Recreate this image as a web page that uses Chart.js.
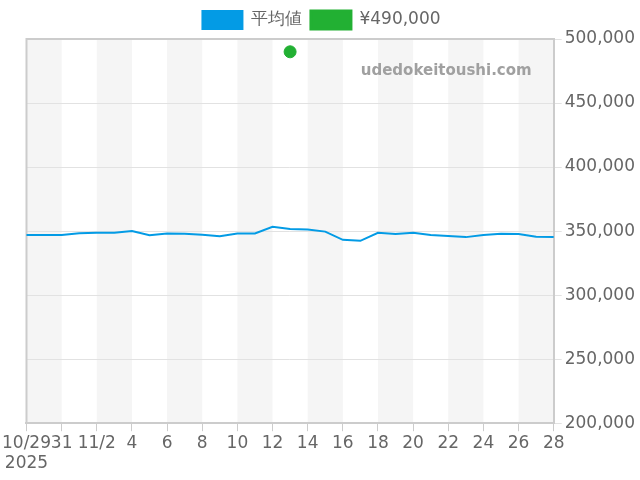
<!DOCTYPE html>
<html>
<head>
<meta charset="utf-8">
<script src="https://cdn.jsdelivr.net/npm/chart.js@4"></script>
<style>
  body { margin: 0; background: #fff; }
  #wrap { width: 640px; height: 480px; }
</style>
</head>
<body>
<div id="wrap"><canvas id="chart"></canvas></div>
<script>
// data
const days = [
  "10/29", "10/30", "10/31", "11/1", "11/2", "11/3", "11/4", "11/5", "11/6", "11/7",
  "11/8", "11/9", "11/10", "11/11", "11/12", "11/13", "11/14", "11/15", "11/16", "11/17",
  "11/18", "11/19", "11/20", "11/21", "11/22", "11/23", "11/24", "11/25", "11/26", "11/27", "11/28"
];
const tickLabels = ["10/29", "31", "11/2", "4", "6", "8", "10", "12", "14", "16", "18", "20", "22", "24", "26", "28"];
const avgPrice = [
  347000, 347000, 347000, 348400, 348700, 348700, 350000, 346800, 348200, 348000,
  347200, 346000, 348200, 348200, 353300, 351700, 351200, 349600, 343200, 342400,
  348700, 347700, 348700, 347000, 346100, 345300, 347000, 348000, 347700, 345600, 345300
];
const listPrice = days.map((d) => (d === "11/13" ? 490000 : null));

// alternating 2-day background bands, frame + watermark
const bands = {
  id: "bands",
  beforeDraw(chart) {
    const { ctx, chartArea, scales } = chart;
    const x = scales.x;
    ctx.save();
    ctx.fillStyle = "#f5f5f5";
    for (let i = 0; i < days.length - 1; i += 4) {
      const x0 = x.getPixelForValue(i);
      const x1 = x.getPixelForValue(Math.min(i + 2, days.length - 1));
      ctx.fillRect(x0, chartArea.top, x1 - x0, chartArea.bottom - chartArea.top);
    }
    ctx.restore();
  },
  beforeDatasetsDraw(chart) {
    const { ctx, chartArea } = chart;
    ctx.save();
    ctx.strokeStyle = "#cccccc";
    ctx.lineWidth = 2;
    ctx.beginPath();
    ctx.moveTo(chartArea.left, chartArea.bottom);
    ctx.lineTo(chartArea.left, chartArea.top);
    ctx.lineTo(chartArea.right, chartArea.top);
    ctx.stroke();
    ctx.fillStyle = "#a0a0a0";
    ctx.font = "bold 15px 'DejaVu Sans'";
    ctx.textAlign = "right";
    ctx.fillText("udedokeitoushi.com", chartArea.right - 22, chartArea.top + 32);
    ctx.restore();
  },
};

new Chart(document.getElementById("chart"), {
  type: "line",
  data: {
    labels: days,
    datasets: [
      {
        label: "平均値",
        data: avgPrice,
        borderColor: "#039be5",
        backgroundColor: "#039be5",
        borderWidth: 2,
        pointRadius: 0,
        tension: 0,
      },
      {
        label: "¥490,000",
        data: listPrice,
        borderColor: "#22b033",
        backgroundColor: "#22b033",
        pointRadius: 6,
        showLine: false,
      },
    ],
  },
  options: {
    responsive: true,
    maintainAspectRatio: false,
    animation: false,
    layout: { padding: { left: 5, right: 2, top: 2, bottom: 4 } },
    scales: {
      x: {
        offset: false,
        grid: {
          drawOnChartArea: false,
          color: "#cccccc",
          tickLength: 8,
        },
        border: { color: "#cccccc", width: 2 },
        ticks: {
          autoSkip: false,
          maxRotation: 0,
          color: "#666",
          font: { size: 17, family: "DejaVu Sans" },
          padding: 2,
          callback: function (value, index) {
            if (index % 2 !== 0) return null;
            const label = tickLabels[index / 2];
            return index === 0 ? [label, "2025"] : label;
          },
        },
      },
      y: {
        position: "right",
        min: 200000,
        max: 500000,
        grid: { color: "#e2e2e2", tickLength: 8 },
        border: { color: "#cccccc", width: 2 },
        ticks: {
          stepSize: 50000,
          color: "#666",
          font: { size: 17, family: "DejaVu Sans" },
          callback: (v) => v.toLocaleString("en-US"),
        },
      },
    },
    plugins: {
      legend: {
        labels: {
          boxWidth: 40,
          boxHeight: 18,
          color: "#666",
          font: { size: 17, family: "DejaVu Sans" },
          padding: 9,
        },
      },
      tooltip: { enabled: false },
    },
  },
  plugins: [bands],
});
</script>
</body>
</html>
